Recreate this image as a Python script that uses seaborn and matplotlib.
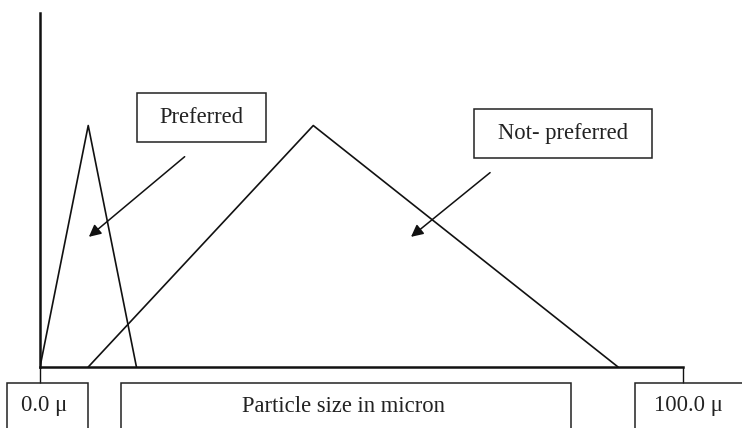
import matplotlib
matplotlib.use('Agg')
import matplotlib.pyplot as plt
import seaborn as sns
import pandas as pd
from matplotlib.patches import Rectangle

# Schematic size distributions (particle size in micron, relative amount)
preferred_size = [0.0, 7.5, 15.0]
preferred_amount = [0.0, 1.0, 0.0]
not_preferred_size = [7.5, 42.5, 89.9]
not_preferred_amount = [0.0, 1.0, 0.0]
axis_ticks = [0, 100]
axis_labels = ["0.0 \u03bc", "Particle size in micron", "100.0 \u03bc"]
curve_labels = ["Preferred", "Not- preferred"]

sns.set_style("white")
plt.rcParams['font.family'] = ['Liberation Serif', 'DejaVu Serif']

W, H = 742, 428
fig = plt.figure(figsize=(W / 100, H / 100), dpi=100)
ax = fig.add_axes([40 / W, (H - 367) / H, 643 / W, 354 / H])


def fx(px):
    return px / W


def fy(py):
    return (H - py) / H


def box(x0, x1, y0, y1):
    # pixel box (y measured from top) drawn in figure coords
    fig.patches.append(Rectangle((fx(x0), fy(y1)), fx(x1 - x0), (y1 - y0) / H,
                                 transform=fig.transFigure, fill=False, ec='#222222',
                                 lw=1.1, clip_on=False))


pref = pd.DataFrame({"size": preferred_size, "amount": preferred_amount})
notp = pd.DataFrame({"size": not_preferred_size, "amount": not_preferred_amount})
sns.lineplot(data=pref, x="size", y="amount", sort=False, color='#111111', lw=1.2, ax=ax)
sns.lineplot(data=notp, x="size", y="amount", sort=False, color='#111111', lw=1.2, ax=ax)

ax.set_xlim(0, 100)
ax.set_ylim(0, 1.466)
ax.set_xlabel("")
ax.set_ylabel("")
ax.set_yticks([])
ax.set_xticks(axis_ticks)
ax.set_xticklabels([])
ax.tick_params(axis='x', direction='out', length=11.5, width=1.0, color='#111111', bottom=True)
for s in ['top', 'right']:
    ax.spines[s].set_visible(False)
for s in ['left', 'bottom']:
    ax.spines[s].set_color('#111111')
    ax.spines[s].set_linewidth(1.8)

# label boxes for the two curves
box(137, 266, 93, 142)
fig.text(fx(201.5), fy(117.5), curve_labels[0], ha='center', va='center', fontsize=16.3, color='#222222')
box(474, 652, 109, 158)
fig.text(fx(563), fy(133.5), curve_labels[1], ha='center', va='center', fontsize=16.3, color='#222222')

arrow = dict(arrowstyle='-|>', mutation_scale=18, lw=1.1, color='#111111', shrinkA=0, shrinkB=0)
ax.annotate("", xy=(7.6, 0.539), xytext=(22.5, 0.871), arrowprops=arrow)
ax.annotate("", xy=(57.7, 0.539), xytext=(70.0, 0.805), arrowprops=arrow)

# boxes below the axis
for (x0, x1) in [(7, 88), (121, 571), (635, 760)]:
    box(x0, x1, 383, 440)
for c, lab in zip([44.5, 344, 688], axis_labels):
    fig.text(fx(c), fy(406), lab, ha='center', va='center', fontsize=16.3, color='#222222')

fig.savefig("out.png", dpi=100, facecolor='white')
plt.close(fig)
